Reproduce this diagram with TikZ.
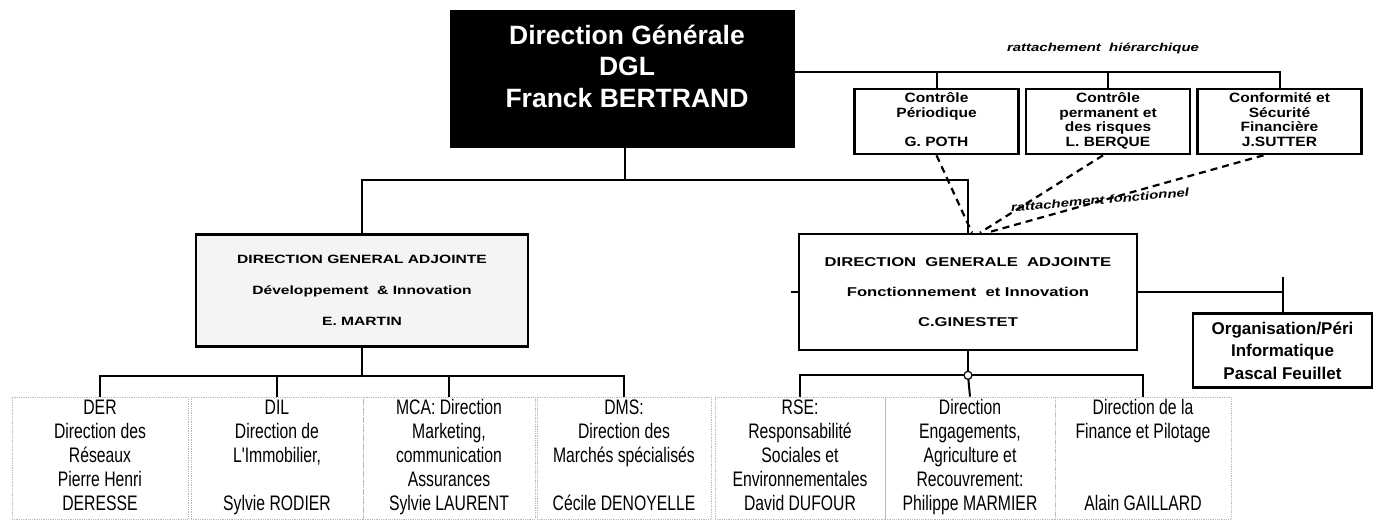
\documentclass[tikz,border=0pt]{standalone}
\usepackage{fontspec}
\setmainfont{Liberation Sans}
\newfontfamily\narrowfont[FakeStretch=0.75]{Liberation Sans}
\newfontfamily\ctrlfont[FakeStretch=1.15]{Liberation Sans}
\newfontfamily\widefont[FakeStretch=1.3]{Liberation Sans}
\begin{document}
\begin{tikzpicture}[x=1pt,y=-1pt,
  conn/.style={draw=black, line width=2pt},
  dashconn/.style={draw=black, line width=2.2pt, dash pattern=on 7pt off 5pt},
  box/.style={draw=black, line width=2.6pt, fill=white, inner sep=0pt, align=center},
  dgbox/.style={draw=black, line width=2.6pt, fill=black, minimum width=342pt, minimum height=136pt},
  dgtext/.style={text=white, align=center, inner sep=0pt, font=\bfseries\fontsize{26.5}{31.5}\selectfont},
  ctrlbox/.style={box, minimum width=164pt, minimum height=65pt, font=\ctrlfont\bfseries\fontsize{13.5}{14.5}\selectfont},
  dgaone/.style={box, fill=gray!9, minimum width=332pt, minimum height=112pt, font=\widefont\bfseries\fontsize{12}{31}\selectfont},
  dgatwo/.style={box, minimum width=338pt, minimum height=116pt, font=\widefont\bfseries\fontsize{12.8}{30}\selectfont},
  orgbox/.style={box, minimum width=179pt, minimum height=74pt, font=\bfseries\fontsize{17}{22.5}\selectfont},
  botbox/.style={draw=gray!55, densely dotted, line width=0.8pt, inner sep=0pt, align=center, minimum width=#1, minimum height=122pt, font=\narrowfont\fontsize{21}{24}\selectfont},
  botbox/.default=174pt,
  lbl/.style={inner sep=0pt, font=\widefont\bfseries\itshape\fontsize{11.5}{13}\selectfont},
  ring/.style={circle, draw=black, line width=1.2pt, fill=white, inner sep=0pt, minimum size=8pt}
]
\useasboundingbox (0,0) rectangle (1378,523);
\fill[white] (0,0) rectangle (1378,523);

% top
\node[dgbox] (dg) at (622.5,79) {};
\node[dgtext] (dgt) at (627,66) {Direction Générale\\DGL\\Franck BERTRAND};

\node[lbl] (hier) at (1103,48) {rattachement\ \ hiérarchique};

\node[ctrlbox] (c1) at (936.5,121.5) {\strut Contrôle\\Périodique\\ \\G. POTH\strut};
\node[ctrlbox] (c2) at (1108,121.5) {\strut Contrôle\\permanent et\\des risques\\L. BERQUE\strut};
\node[ctrlbox] (c3) at (1279.5,121.5) {\strut Conformité et\\Sécurité\\Financière\\J.SUTTER\strut};

\coordinate (hr) at (1279.5,72);
\draw[conn] (dg.east |- hr) -- (hr) -- (c3.north);
\draw[conn] (c1.north) -- (c1.north |- hr);
\draw[conn] (c2.north) -- (c2.north |- hr);

% second level
\node[dgaone] (dga1) at (362,290.5) {DIRECTION GENERAL ADJOINTE\\Développement\ \ \& Innovation\\E. MARTIN};
\node[dgatwo] (dga2) at (968,292) {DIRECTION\ \ GENERALE\ \ ADJOINTE\\Fonctionnement\ \ et Innovation\\C.GINESTET};

\draw[conn] (dg.south -| 625,0) -- (625,180) coordinate (j0);
\draw[conn] (dga1.north) |- (j0) -| (dga2.north);
\draw[conn] (dga2.west) -- ++(-7,0) coordinate (stub);

% functional links
\draw[dashconn] (c1.south) -- ([xshift=4pt]dga2.north);
\draw[dashconn] ([xshift=-5pt]c2.south) -- ([xshift=12pt]dga2.north);
\draw[dashconn] ([xshift=-16pt]c3.south) -- ([xshift=19pt]dga2.north);
\node[lbl, rotate=5] (fonc) at (1100,200) {rattachement fonctionnel};

% organisation
\node[orgbox] (org) at (1282.5,350.5) {Organisation/Péri\\Informatique\\Pascal Feuillet};
\draw[conn] (org.north) -- ++(0,-35) coordinate (otop);
\draw[conn] (dga2.east) -- (dga2.east -| org.north);

% bottom row
\node[botbox=176pt] (b1) at (100,458) {\strut DER\\Direction des\\Réseaux\\Pierre Henri\\DERESSE\strut};
\node[botbox=172pt] (b2) at (277,458) {\strut DIL\\Direction de\\L'Immobilier,\\ \\Sylvie RODIER\strut};
\node[botbox=172pt] (b3) at (449,458) {\strut MCA: Direction\\Marketing,\\communication\\Assurances\\Sylvie LAURENT\strut};
\node[botbox=174pt] (b4) at (624,458) {\strut DMS:\\Direction des\\Marchés spécialisés\\ \\Cécile DENOYELLE\strut};
\node[botbox=170pt] (b5) at (800,458) {\strut RSE:\\Responsabilité\\Sociales et\\Environnementales\\David DUFOUR\strut};
\node[botbox=170pt] (b6) at (970,458) {\strut Direction\\Engagements,\\Agriculture et\\Recouvrement:\\Philippe MARMIER\strut};
\node[botbox=176pt] (b7) at (1143,458) {\strut Direction de la\\Finance et Pilotage\\ \\ \\Alain GAILLARD\strut};

\draw[conn] (dga1.south) -- ++(0,28) coordinate (lj);
\draw[conn] (b1.north) |- (lj) -| (b4.north);
\draw[conn] (b2.north) -- (b2.north |- lj);
\draw[conn] (b3.north) -- (b3.north |- lj);

\draw[conn] (dga2.south) -- ++(0,24) coordinate (rj);
\draw[conn] (b5.north) |- (rj) -| (b7.north);
\draw[conn] (rj) -- (b6.north);
\node[ring] (rc) at (rj) {};
\end{tikzpicture}
\end{document}
